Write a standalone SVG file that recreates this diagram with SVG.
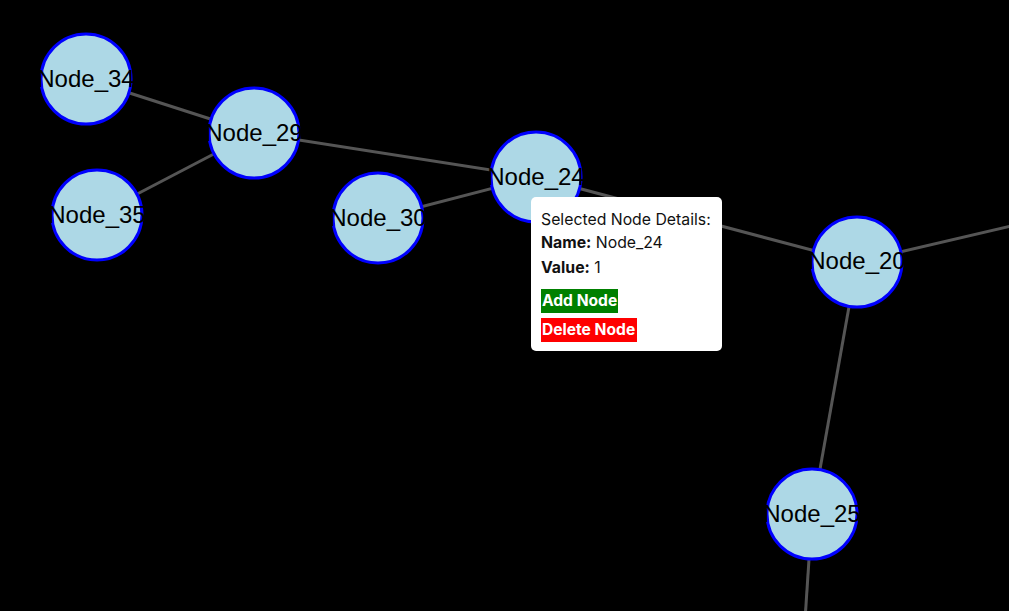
<svg xmlns="http://www.w3.org/2000/svg" width="1009" height="611" viewBox="0 0 1009 611">
<style>
.bg{fill:#000}
.edge{stroke:#555;stroke-width:3;fill:none}
.node circle{fill:#add8e6;stroke:#0000ff;stroke-width:3}
.node text{font-family:"Liberation Sans",Arial,sans-serif;font-size:24px;fill:#000;text-anchor:middle}
.tip{font-family:Inter,"Liberation Sans",sans-serif;font-size:15.8px;fill:#111}
.b{font-weight:bold}
.btn{font-family:Inter,"Liberation Sans",sans-serif;font-size:15.6px;font-weight:bold;fill:#fff}
</style>
<rect class="bg" x="0" y="0" width="1009" height="611"/>
<g id="connectors">
<line class="edge" x1="86" y1="79" x2="254" y2="133"/>
<line class="edge" x1="97" y1="215" x2="254" y2="133"/>
<line class="edge" x1="254" y1="133" x2="536" y2="177"/>
<line class="edge" x1="378" y1="218" x2="536" y2="177"/>
<line class="edge" x1="536" y1="177" x2="857" y2="262"/>
<line class="edge" x1="857" y1="262" x2="1020" y2="224"/>
<line class="edge" x1="857" y1="262" x2="812" y2="514"/>
<line class="edge" x1="812" y1="514" x2="805" y2="620"/>
</g>
<g id="node-34" class="node"><circle cx="86" cy="79" r="45"/><text x="86" y="87">Node_34</text></g>
<g id="node-29" class="node"><circle cx="254" cy="133" r="45"/><text x="254" y="141">Node_29</text></g>
<g id="node-35" class="node"><circle cx="97" cy="215" r="45"/><text x="97" y="223">Node_35</text></g>
<g id="node-30" class="node"><circle cx="378" cy="218" r="45"/><text x="378" y="226">Node_30</text></g>
<g id="node-24" class="node"><circle cx="536" cy="177" r="45"/><text x="536" y="185">Node_24</text></g>
<g id="node-20" class="node"><circle cx="857" cy="262" r="45"/><text x="857" y="269">Node_20</text></g>
<g id="node-25" class="node"><circle cx="812" cy="514" r="45"/><text x="812" y="522">Node_25</text></g>
<g id="tooltip">
<rect x="531" y="197" width="191" height="154" rx="5" fill="#fff"/>
<text class="tip" x="541" y="225">Selected Node Details:</text>
<text class="tip" x="541" y="248"><tspan class="b">Name:</tspan> Node_24</text>
<text class="tip" x="541" y="273"><tspan class="b">Value:</tspan> 1</text>
<rect x="541" y="289" width="77" height="24" fill="#008000"/>
<text class="btn" x="542" y="306">Add Node</text>
<rect x="541" y="318" width="96" height="24" fill="#ff0000"/>
<text class="btn" x="542" y="335">Delete Node</text>
</g>
</svg>
